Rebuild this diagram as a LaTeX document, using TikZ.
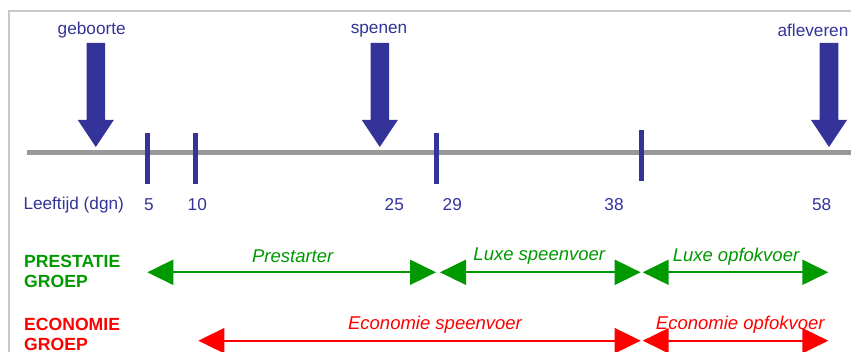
\documentclass[tikz,border=0pt]{standalone}
\usepackage{fontspec}
\setmainfont{Liberation Sans}
\usetikzlibrary{arrows.meta}
\definecolor{dblue}{HTML}{333399}
\definecolor{tgray}{HTML}{999999}
\definecolor{bgray}{HTML}{C8C8C8}
\definecolor{pgreen}{HTML}{009900}
\definecolor{ered}{HTML}{FF0000}
\begin{document}
\begin{tikzpicture}[x=1pt,y=-1pt,
  lbl/.style={inner sep=0pt, font=\fontsize{17.2}{20}\selectfont},
  bluelbl/.style={lbl, text=dblue},
  grp/.style={lbl, align=left, anchor=west, font=\fontsize{17.6}{20}\selectfont\bfseries},
  feed/.style={lbl, font=\fontsize{18.5}{20}\selectfont\itshape},
  tickmark/.style={dblue, line width=5pt},
  bigarrow/.style={fill=dblue},
  span/.style={line width=2pt, {Triangle[length=26pt,width=25pt]}-{Triangle[length=26pt,width=25pt]}}
]
\useasboundingbox (0,0) rectangle (851,352);
% frame
\draw[bgray, line width=1.5pt] (9,352) -- (9,11) -- (851,11);
% timeline
\coordinate (tlA) at (27,153);
\coordinate (tlB) at (851,153);
\draw[tgray, line width=5pt] (tlA) -- (tlB);
% ticks
\draw[tickmark] (147,133) -- (147,184);
\draw[tickmark] (195,133) -- (195,184);
\draw[tickmark] (436.7,133) -- (436.7,184);
\draw[tickmark] (641.7,130) -- (641.7,181);
% block arrows
\foreach \cx/\nm in {95.8/a, 379.8/b, 829/c}{
  \fill[bigarrow] (\cx-9.3,43) -- (\cx+9.3,43) -- (\cx+9.3,120) -- (\cx+18,120)
     -- (\cx,147) -- (\cx-18,120) -- (\cx-9.3,120) -- cycle;
}
% top labels
\node[bluelbl] (geb) at (91.7,30.5) {geboorte};
\node[bluelbl] (spe) at (379,30.5) {spenen};
\node[bluelbl] (afl) at (813,30.5) {afleveren};
% axis labels
\node[bluelbl, anchor=west] (lt) at (23.3,205) {Leeftijd (dgn)};
\node[bluelbl] (d5) at (149,205) {5};
\node[bluelbl] (d10) at (197.3,205) {10};
\node[bluelbl] (d25) at (394.3,205) {25};
\node[bluelbl] (d29) at (452.3,205) {29};
\node[bluelbl] (d38) at (614,205) {38};
\node[bluelbl] (d58) at (821.7,205) {58};
% groups
\node[grp, text=pgreen] (pg) at (24,271) {PRESTATIE\\GROEP};
\node[grp, text=ered] (eg) at (24,334) {ECONOMIE\\GROEP};
% green spans
\coordinate (g1) at (147.3,272.3);
\coordinate (g2) at (436,272.3);
\coordinate (g3) at (440,272.3);
\coordinate (g4) at (640.7,272.3);
\coordinate (g5) at (642.7,272.3);
\coordinate (g6) at (828.3,272.3);
\draw[span, pgreen] (g1) -- (g2);
\draw[span, pgreen] (g3) -- (g4);
\draw[span, pgreen] (g5) -- (g6);
\node[feed, text=pgreen] (pre) at (292.7,256.5) {Prestarter};
\node[feed, text=pgreen] (lsp) at (539.3,256.5) {Luxe speenvoer};
\node[feed, text=pgreen] (lop) at (736,256.5) {Luxe opfokvoer};
% red spans
\coordinate (r1) at (198.3,340.7);
\coordinate (r2) at (640.7,340.7);
\coordinate (r3) at (642.7,340.7);
\coordinate (r4) at (828.3,340.7);
\draw[span, ered] (r1) -- (r2);
\draw[span, ered] (r3) -- (r4);
\node[feed, text=ered] (esp) at (435,325) {Economie speenvoer};
\node[feed, text=ered] (eop) at (740.3,325) {Economie opfokvoer};
\end{tikzpicture}
\end{document}
